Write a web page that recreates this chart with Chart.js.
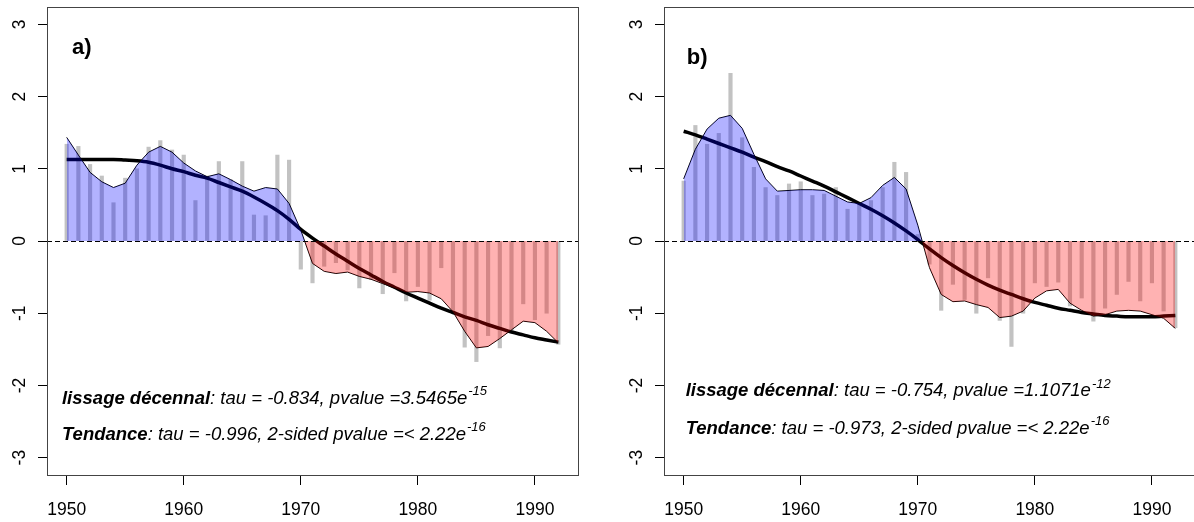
<!DOCTYPE html>
<html lang="fr">
<head>
    <meta charset="UTF-8">
    <title>Lissage décennal et tendance</title>
    <script src="https://cdn.jsdelivr.net/npm/chart.js"></script>
    <style>
        body {
            margin: 0;
            width: 1194px;
            height: 522px;
            overflow: hidden;
            background: #ffffff;
            position: relative;
        }
        canvas {
            position: absolute;
            top: 0;
        }
        #chartA { left: 0; }
        #chartB { left: 617px; }
    </style>
</head>
<body>
    <canvas id="chartA" width="597" height="522"></canvas>
    <canvas id="chartB" width="597" height="522"></canvas>

    <script>
        const years = [1950, 1951, 1952, 1953, 1954, 1955, 1956, 1957, 1958, 1959,
                       1960, 1961, 1962, 1963, 1964, 1965, 1966, 1967, 1968, 1969,
                       1970, 1971, 1972, 1973, 1974, 1975, 1976, 1977, 1978, 1979,
                       1980, 1981, 1982, 1983, 1984, 1985, 1986, 1987, 1988, 1989,
                       1990, 1991, 1992];
        const xTicks = [1950, 1960, 1970, 1980, 1990];
        const yTicks = [-3, -2, -1, 0, 1, 2, 3];

        // panel a)
        const annualA = [1.34, 1.31, 1.06, 0.90, 0.53, 0.87, 1.00, 1.30, 1.39, 1.26,
                         1.19, 0.56, 0.90, 1.10, 0.85, 1.10, 0.36, 0.35, 1.19, 1.12,
                         -0.39, -0.58, -0.35, -0.30, -0.40, -0.65, -0.53, -0.73, -0.44, -0.83,
                         -0.63, -0.82, -0.37, -1.00, -1.47, -1.67, -1.31, -1.48, -1.27, -0.87,
                         -1.09, -1.00, -1.43];
        const smoothA = [1.435, 1.19, 0.95, 0.82, 0.74, 0.80, 1.05, 1.23, 1.31, 1.23,
                         1.08, 0.97, 0.89, 0.93, 0.85, 0.76, 0.69, 0.74, 0.72, 0.52,
                         0.15, -0.31, -0.42, -0.45, -0.43, -0.49, -0.53, -0.59, -0.65, -0.71,
                         -0.70, -0.72, -0.80, -0.98, -1.25, -1.48, -1.46, -1.35, -1.23, -1.11,
                         -1.13, -1.25, -1.41];
        const trendA = [1.13, 1.13, 1.13, 1.13, 1.13, 1.12, 1.11, 1.09, 1.05, 1.00,
                        0.96, 0.91, 0.87, 0.81, 0.75, 0.69, 0.61, 0.52, 0.42, 0.30,
                        0.16, 0.04, -0.07, -0.18, -0.28, -0.38, -0.47, -0.56, -0.64, -0.72,
                        -0.79, -0.86, -0.93, -0.99, -1.05, -1.10, -1.16, -1.21, -1.26, -1.30,
                        -1.34, -1.37, -1.40];

        // panel b)
        const annualB = [0.83, 1.60, 1.34, 1.49, 2.32, 1.43, 1.02, 0.74, 0.63, 0.79,
                         0.82, 0.63, 0.65, 0.74, 0.44, 0.51, 0.56, 0.74, 1.09, 0.95,
                         0.09, -0.32, -0.96, -0.60, -0.81, -1.00, -0.51, -1.10, -1.46, -1.00,
                         -0.58, -0.63, -0.57, -0.90, -0.79, -1.11, -0.93, -0.74, -0.56, -0.83,
                         -0.58, -0.97, -1.20];
        const smoothB = [0.86, 1.27, 1.55, 1.70, 1.74, 1.56, 1.20, 0.86, 0.69, 0.70,
                         0.71, 0.71, 0.70, 0.62, 0.54, 0.52, 0.60, 0.77, 0.88, 0.72,
                         0.22, -0.37, -0.74, -0.84, -0.83, -0.88, -0.92, -1.06, -1.04, -0.97,
                         -0.79, -0.69, -0.67, -0.86, -0.96, -1.04, -1.02, -0.97, -0.96, -0.97,
                         -1.02, -1.07, -1.21];
        const trendB = [1.52, 1.47, 1.41, 1.35, 1.29, 1.23, 1.16, 1.10, 1.03, 0.97,
                        0.90, 0.83, 0.76, 0.68, 0.60, 0.52, 0.44, 0.35, 0.25, 0.14,
                        0.02, -0.11, -0.23, -0.34, -0.44, -0.53, -0.61, -0.68, -0.74, -0.80,
                        -0.85, -0.89, -0.93, -0.96, -0.99, -1.01, -1.03, -1.04, -1.05, -1.05,
                        -1.05, -1.04, -1.03];

        const statsA = [": tau = -0.834, pvalue =3.5465e", "-15", ": tau = -0.996, 2-sided pvalue =< 2.22e", "-16"];
        const statsB = [": tau = -0.754, pvalue =1.1071e", "-12", ": tau = -0.973, 2-sided pvalue =< 2.22e", "-16"];

        const FONT = '"Liberation Sans", Arial, sans-serif';

        function pts(values) {
            return years.map((yr, i) => ({ x: yr, y: values[i] }));
        }

        function drawStat(ctx, x, y, bold, rest, sup) {
            ctx.textAlign = 'left';
            ctx.textBaseline = 'middle';
            ctx.font = 'italic bold 18.5px ' + FONT;
            ctx.fillText(bold, x, y);
            x += ctx.measureText(bold).width;
            ctx.font = 'italic 18.5px ' + FONT;
            ctx.fillText(rest, x, y);
            x += ctx.measureText(rest).width;
            ctx.font = 'italic 13px ' + FONT;
            ctx.fillText(sup, x + 1, y - 7);
        }

        const decorations = {
            id: 'decorations',
            afterDatasetsDraw(chart) {
                const { ctx, chartArea, scales } = chart;
                const y0 = Math.round(scales.y.getPixelForValue(0)) + 0.5;
                ctx.save();
                ctx.strokeStyle = '#000';
                ctx.lineWidth = 1;
                ctx.setLineDash([5, 3]);
                ctx.beginPath();
                ctx.moveTo(chartArea.left, y0);
                ctx.lineTo(chartArea.right, y0);
                ctx.stroke();
                ctx.restore();
            },
            afterDraw(chart, args, opts) {
                const { ctx, chartArea, scales } = chart;
                ctx.save();
                // plot frame
                ctx.strokeStyle = '#444';
                ctx.lineWidth = 1;
                ctx.strokeRect(chartArea.left + 0.5, chartArea.top + 0.5,
                               chartArea.right - chartArea.left, chartArea.bottom - chartArea.top);

                // rotated y tick labels (R style)
                ctx.fillStyle = '#000';
                ctx.font = '17.5px ' + FONT;
                ctx.textAlign = 'center';
                ctx.textBaseline = 'middle';
                scales.y.ticks.forEach(t => {
                    const py = scales.y.getPixelForValue(t.value);
                    ctx.save();
                    ctx.translate(chartArea.left - 27, py);
                    ctx.rotate(-Math.PI / 2);
                    ctx.fillText(String(t.value), 0, 0);
                    ctx.restore();
                });

                // panel letter
                ctx.font = 'bold 22px ' + FONT;
                ctx.textAlign = 'left';
                ctx.fillText(opts.letter,
                             scales.x.getPixelForValue(opts.letterAt[0]),
                             scales.y.getPixelForValue(opts.letterAt[1]));

                // Mann-Kendall results
                const sx = scales.x.getPixelForValue(opts.statsAt[0]);
                drawStat(ctx, sx, scales.y.getPixelForValue(opts.statsAt[1]),
                         'lissage décennal', opts.stats[0], opts.stats[1]);
                drawStat(ctx, sx, scales.y.getPixelForValue(opts.statsAt[2]),
                         'Tendance', opts.stats[2], opts.stats[3]);
                ctx.restore();
            }
        };

        function makeChart(id, annual, smooth, trend, panel) {
            const ctx = document.getElementById(id).getContext('2d');
            return new Chart(ctx, {
                type: 'line',
                data: {
                    datasets: [
                        {
                            // fill of the decennial smoothing, drawn on top (transparent)
                            data: pts(smooth),
                            borderColor: 'rgba(0,0,0,0)',
                            borderWidth: 1,
                            pointRadius: 0,
                            tension: 0,
                            fill: {
                                target: { value: 0 },
                                above: 'rgba(0,0,255,0.3)',
                                below: 'rgba(255,0,0,0.3)'
                            },
                            order: 0
                        },
                        {
                            data: pts(smooth),
                            borderColor: '#000',
                            borderWidth: 1,
                            pointRadius: 0,
                            tension: 0,
                            fill: false,
                            order: 1
                        },
                        {
                            data: pts(trend),
                            borderColor: '#000',
                            borderWidth: 3.5,
                            pointRadius: 0,
                            cubicInterpolationMode: 'monotone',
                            fill: false,
                            order: 2
                        },
                        {
                            type: 'bar',
                            data: pts(annual),
                            backgroundColor: '#c2c2c2',
                            barThickness: 3.5,
                            order: 3
                        }
                    ]
                },
                options: {
                    responsive: false,
                    animation: false,
                    layout: {
                        autoPadding: false,
                        padding: { top: 7, right: 19, left: 0, bottom: 0 }
                    },
                    plugins: {
                        legend: { display: false },
                        tooltip: { enabled: false },
                        decorations: panel
                    },
                    scales: {
                        x: {
                            type: 'linear',
                            min: 1948.32,
                            max: 1993.68,
                            offset: false,
                            afterBuildTicks: s => { s.ticks = xTicks.map(v => ({ value: v })); },
                            afterFit: s => { s.height = 47; },
                            grid: { drawOnChartArea: false, offset: false, tickLength: 10, color: '#000', tickColor: '#000' },
                            border: { display: false },
                            ticks: {
                                color: '#000',
                                font: { family: FONT, size: 17.5 },
                                padding: 15,
                                maxRotation: 0,
                                autoSkip: false,
                                callback: v => String(v)
                            }
                        },
                        y: {
                            min: -3.24,
                            max: 3.24,
                            afterBuildTicks: s => { s.ticks = yTicks.map(v => ({ value: v })); },
                            afterFit: s => { s.width = 47; },
                            grid: { drawOnChartArea: false, tickLength: 9, color: '#000', tickColor: '#000' },
                            border: { display: false },
                            ticks: { display: false }
                        }
                    }
                },
                plugins: [decorations]
            });
        }

        makeChart('chartA', annualA, smoothA, trendA,
                  { letter: 'a)', letterAt: [1950.45, 2.68], statsAt: [1949.6, -2.18, -2.68], stats: statsA });
        makeChart('chartB', annualB, smoothB, trendB,
                  { letter: 'b)', letterAt: [1950.26, 2.54], statsAt: [1950.17, -2.08, -2.60], stats: statsB });
    </script>
</body>
</html>
